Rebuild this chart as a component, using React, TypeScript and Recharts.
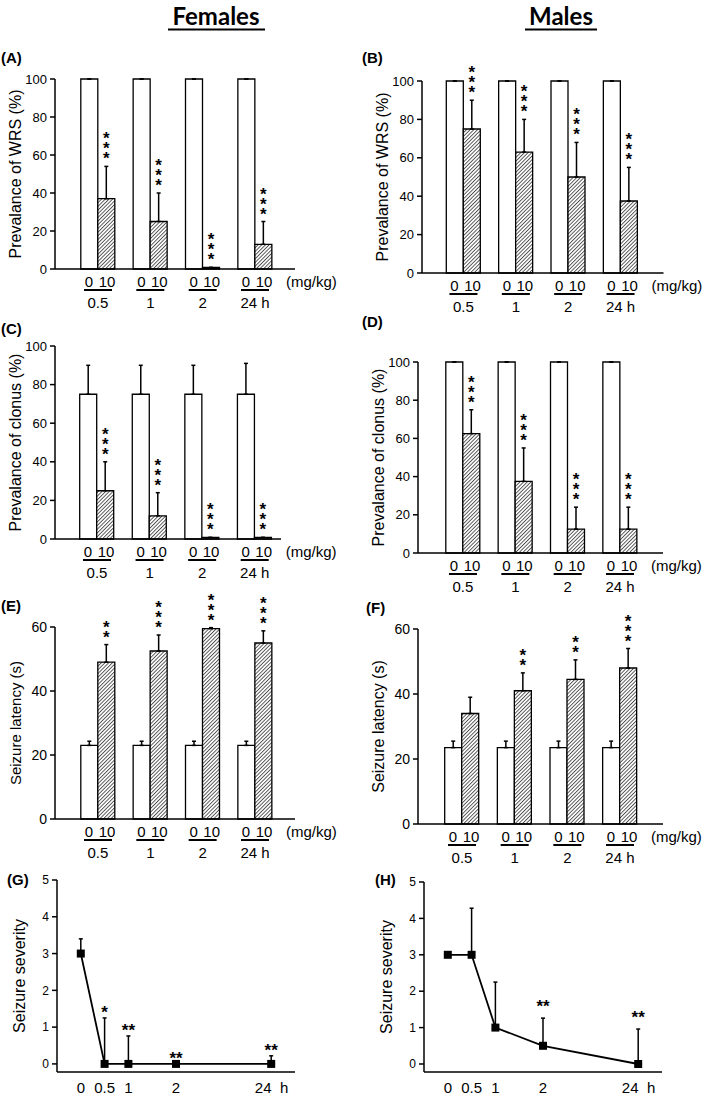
import React from "react";
import {
  Bar,
  BarChart,
  ErrorBar,
  LabelList,
  Line,
  LineChart,
  XAxis,
  YAxis,
} from "recharts";

const FONT = "'Liberation Sans', Arial, Helvetica, sans-serif";

// time after injection (h) – shared by all bar panels
const groups = ["0.5", "1", "2", "24 h"];

// (A) females – prevalence of WRS (%)
const femWrsCtl = [100, 100, 100, 100];
const femWrsCtlErr = [0, 0, 0, 0];
const femWrsTrt = [37, 25, 0.8, 13];
const femWrsTrtErr = [17, 15, 0, 12];
const femWrsStars = [3, 3, 3, 3];

// (B) males – prevalence of WRS (%)
const maleWrsCtl = [100, 100, 100, 100];
const maleWrsCtlErr = [0, 0, 0, 0];
const maleWrsTrt = [75, 63, 50, 37.5];
const maleWrsTrtErr = [15, 17, 18, 17.5];
const maleWrsStars = [3, 3, 3, 3];

// (C) females – prevalence of clonus (%)
const femClonCtl = [75, 75, 75, 75];
const femClonCtlErr = [15, 15, 15, 16];
const femClonTrt = [25, 12, 0.8, 0.8];
const femClonTrtErr = [15, 12, 0, 0];
const femClonStars = [3, 3, 3, 3];

// (D) males – prevalence of clonus (%)
const maleClonCtl = [100, 100, 100, 100];
const maleClonCtlErr = [0, 0, 0, 0];
const maleClonTrt = [62.5, 37.5, 12.5, 12.5];
const maleClonTrtErr = [12.5, 17.5, 11.5, 11.5];
const maleClonStars = [3, 3, 3, 3];

// (E) females – seizure latency (s)
const femLatCtl = [23, 23, 23, 23];
const femLatCtlErr = [1.3, 1.3, 1.3, 1.3];
const femLatTrt = [49, 52.5, 59.5, 55];
const femLatTrtErr = [5.5, 5, 0.3, 3.8];
const femLatStars = [2, 3, 3, 3];

// (F) males – seizure latency (s)
const maleLatCtl = [23.5, 23.5, 23.5, 23.5];
const maleLatCtlErr = [2, 2, 2, 2];
const maleLatTrt = [34, 41, 44.5, 48];
const maleLatTrtErr = [5, 5.5, 6, 6];
const maleLatStars = [0, 2, 2, 3];

// (G)/(H) seizure severity over time
const times = ["0", "0.5", "1", "2", "24"];
const timePos = [0, 1, 2, 4, 8]; // broken time axis
const femSev = [3, 0, 0, 0, 0];
const femSevErr = [0.4, 1.25, 0.76, 0, 0.22];
const femSevStars = ["", "*", "**", "**", "**"];
const maleSev = [3, 3, 1, 0.5, 0];
const maleSevErr = [0, 1.28, 1.25, 0.76, 0.96];
const maleSevStars = ["", "", "", "**", "**"];

const pctTicks = [0, 20, 40, 60, 80, 100];
const latTicks = [0, 20, 40, 60];
const sevTicks = [0, 1, 2, 3, 4, 5];

type BarRow = {
  group: string;
  ctl: number;
  trt: number;
  ctlErr: number[];
  trtErr: number[];
  stars: number;
};

const makeRows = (
  ctl: number[],
  ctlErr: number[],
  trt: number[],
  trtErr: number[],
  stars: number[]
): BarRow[] =>
  groups.map((g, i) => ({
    group: g,
    ctl: ctl[i],
    trt: trt[i],
    ctlErr: [0, ctlErr[i]],
    trtErr: [0, trtErr[i]],
    stars: stars[i],
  }));

const STAR_SIZE = 17;
const STAR_MID = 10; // baseline -> glyph centre

const YTitle = ({ viewBox, text, gap = 40, size = 16 }: any) => {
  if (!viewBox) return null;
  const cx = viewBox.x + viewBox.width - gap;
  const cy = viewBox.y + viewBox.height / 2;
  return (
    <text
      x={cx}
      y={cy}
      transform={`rotate(-90 ${cx} ${cy})`}
      textAnchor="middle"
      dominantBaseline="central"
      fontSize={size}
      fontFamily={FONT}
      fill="#000"
    >
      {text}
    </text>
  );
};

const GroupTick = ({ x, y, payload, index, count }: any) => (
  <g fontFamily={FONT} fontSize={15} fill="#000">
    <text x={x - 9} y={y + 18} textAnchor="middle">0</text>
    <text x={x + 9} y={y + 18} textAnchor="middle">10</text>
    <line x1={x - 14} x2={x + 14} y1={y + 21} y2={y + 21} stroke="#000" strokeWidth={2} />
    <text x={x} y={y + 39} textAnchor="middle">{payload.value}</text>
    {index === count - 1 && (
      <text x={x + 31} y={y + 18} textAnchor="start">(mg/kg)</text>
    )}
  </g>
);

const TimeTick = ({ x, y, payload }: any) => {
  const i = timePos.indexOf(payload.value);
  const last = i === timePos.length - 1;
  return (
    <g fontFamily={FONT} fontSize={15} fill="#000">
      <text x={last ? x - 8 : x} y={y + 21} textAnchor="middle">{times[i]}</text>
      {last && <text x={x + 13} y={y + 21} textAnchor="middle">h</text>}
    </g>
  );
};

const AXIS_W = 55;
const TOP = 40;
const BOTTOM = 48;

type BarPanelProps = {
  rows: BarRow[];
  x: number;
  y: number;
  w: number;
  h: number;
  yMax: number;
  yTicks: number[];
  yLabel: string;
  padL: number;
  padR: number;
  right?: number;
  tickSize?: number;
  labelSize?: number;
};

const BarPanel = ({ rows, x, y, w, h, yMax, yTicks, yLabel, padL, padR, right = 46, tickSize = 13, labelSize = 16 }: BarPanelProps) => {
  const pxPerUnit = h / yMax;
  const renderStars = (props: any) => {
    const vb = props.viewBox ?? props;
    const row = rows[props.index];
    if (!row || !row.stars) return null;
    const base = Number(vb.y) + Number(vb.height);
    const errTop = base - (row.trt + row.trtErr[1]) * pxPerUnit;
    const cx = Number(vb.x) + Number(vb.width) / 2;
    // bottom star centred ~12px above the error bar, 10px between stars
    return (
      <text x={cx} y={errTop - 12 + STAR_MID} textAnchor="middle" fontSize={STAR_SIZE} fontWeight="bold" fontFamily={FONT} fill="#000">
        {Array.from({ length: row.stars }, (_, k) => (
          <tspan key={k} x={cx} dy={k === 0 ? 0 : -10}>
            *
          </tspan>
        ))}
      </text>
    );
  };
  return (
    <div style={{ position: "absolute", left: x - AXIS_W, top: y - TOP }}>
      <BarChart
        width={AXIS_W + w + right}
        height={TOP + h + BOTTOM}
        data={rows}
        margin={{ top: TOP, right, bottom: 0, left: 0 }}
        barGap={0}
        barSize={17}
      >
        <XAxis
          dataKey="group"
          height={BOTTOM}
          interval={0}
          padding={{ left: padL, right: padR }}
          tickLine={false}
          tickSize={0}
          tickMargin={0}
          axisLine={{ stroke: "#000", strokeWidth: 1.5 }}
          tick={<GroupTick count={rows.length} />}
        />
        <YAxis
          width={AXIS_W}
          domain={[0, yMax]}
          ticks={yTicks}
          interval={0}
          tickSize={5}
          tickMargin={3}
          axisLine={{ stroke: "#000", strokeWidth: 1.5 }}
          tickLine={{ stroke: "#000", strokeWidth: 1.5 }}
          tick={{ fill: "#000", fontSize: tickSize, fontFamily: FONT }}
          label={<YTitle text={yLabel} size={labelSize} />}
        />
        <Bar dataKey="ctl" fill="#fff" stroke="#000" strokeWidth={1.3} isAnimationActive={false}>
          <ErrorBar dataKey="ctlErr" direction="y" width={2} stroke="#000" strokeWidth={1.5} />
        </Bar>
        <Bar dataKey="trt" fill="url(#hatch)" stroke="#000" strokeWidth={1.3} isAnimationActive={false}>
          <ErrorBar dataKey="trtErr" direction="y" width={2} stroke="#000" strokeWidth={1.5} />
          <LabelList dataKey="stars" content={renderStars} />
        </Bar>
      </BarChart>
    </div>
  );
};

type SevRow = { pos: number; sev: number; err: number[]; stars: string };

const makeSevRows = (sev: number[], err: number[], stars: string[]): SevRow[] =>
  timePos.map((p, i) => ({ pos: p, sev: sev[i], err: [0, err[i]], stars: stars[i] }));

const SEV_MIN = -0.22;

const Square = ({ cx, cy }: any) =>
  cx == null || cy == null ? null : <rect x={cx - 4} y={cy - 4} width={8} height={8} fill="#000" />;

const SeverityPanel = ({ rows, x, y, w, h, starGap }: { rows: SevRow[]; x: number; y: number; w: number; h: number; starGap: number }) => {
  const pxPerUnit = h / (5 - SEV_MIN);
  const renderStars = (props: any) => {
    const vb = props.viewBox ?? props;
    const row = rows[props.index];
    if (!row || !row.stars) return null;
    const errTop = Number(vb.y) - row.err[1] * pxPerUnit;
    return (
      <text x={Number(vb.x)} y={errTop - starGap + STAR_MID} textAnchor="middle" fontSize={STAR_SIZE} fontWeight="bold" fontFamily={FONT} fill="#000">
        {row.stars}
      </text>
    );
  };
  return (
    <div style={{ position: "absolute", left: x - AXIS_W, top: y - TOP }}>
      <LineChart
        width={AXIS_W + w + 30}
        height={TOP + h + 30}
        data={rows}
        margin={{ top: TOP, right: 30, bottom: 0, left: 0 }}
      >
        <XAxis
          type="number"
          dataKey="pos"
          domain={[-1, 9]}
          ticks={timePos}
          interval={0}
          height={30}
          tickLine={false}
          tickSize={0}
          tickMargin={0}
          axisLine={{ stroke: "#000", strokeWidth: 1.5 }}
          tick={<TimeTick />}
        />
        <YAxis
          width={AXIS_W}
          type="number"
          domain={[SEV_MIN, 5]}
          ticks={sevTicks}
          interval={0}
          tickSize={5}
          tickMargin={3}
          axisLine={{ stroke: "#000", strokeWidth: 1.5 }}
          tickLine={{ stroke: "#000", strokeWidth: 1.5 }}
          tick={{ fill: "#000", fontSize: 12, fontFamily: FONT }}
          label={<YTitle text="Seizure severity" gap={38} size={16} />}
        />
        <Line
          dataKey="sev"
          stroke="#000"
          strokeWidth={1.8}
          dot={<Square />}
          activeDot={false}
          isAnimationActive={false}
        >
          <ErrorBar dataKey="err" direction="y" width={2} stroke="#000" strokeWidth={1.5} />
          <LabelList dataKey="stars" content={renderStars} />
        </Line>
      </LineChart>
    </div>
  );
};

const panelLetter = (t: string, x: number, y: number) => (
  <text x={x} y={y} fontSize={15} fontWeight="bold" fontFamily={FONT} fill="#000">
    {t}
  </text>
);

const TITLE_FONT = "Lato, 'Open Sans', sans-serif";

export default function App() {
  return (
    <div
      style={{
        position: "absolute",
        left: 0,
        top: 0,
        width: 709,
        height: 1099,
        overflow: "hidden",
        background: "#fff",
      }}
    >
      <svg width={709} height={1099} style={{ position: "absolute", left: 0, top: 0 }}>
        <defs>
          <pattern id="hatch" patternUnits="userSpaceOnUse" width={2.6} height={2.6} patternTransform="rotate(45)">
            <rect width={2.6} height={2.6} fill="#fff" />
            <line x1={0.5} y1={0} x2={0.5} y2={2.6} stroke="#222" strokeWidth={0.75} />
          </pattern>
        </defs>
        <text x={216} y={25} textAnchor="middle" fontSize={24} fontWeight="bold" fontFamily={TITLE_FONT} fill="#000">
          Females
        </text>
        <line x1={168} x2={265} y1={29.5} y2={29.5} stroke="#000" strokeWidth={2} />
        <text x={561} y={25} textAnchor="middle" fontSize={24} fontWeight="bold" fontFamily={TITLE_FONT} fill="#000">
          Males
        </text>
        <line x1={525} x2={597} y1={29.5} y2={29.5} stroke="#000" strokeWidth={2} />
        {panelLetter("(A)", 1, 63)}
        {panelLetter("(B)", 362, 63)}
        {panelLetter("(C)", 1, 334)}
        {panelLetter("(D)", 362, 327)}
        {panelLetter("(E)", 1, 611)}
        {panelLetter("(F)", 366, 613)}
        {panelLetter("(G)", 7, 885)}
        {panelLetter("(H)", 375, 885)}
      </svg>

      <BarPanel
        rows={makeRows(femWrsCtl, femWrsCtlErr, femWrsTrt, femWrsTrtErr, femWrsStars)}
        x={55} y={79} w={240} h={190} yMax={100} yTicks={pctTicks}
        yLabel="Prevalance of WRS (%)" padL={16.8} padR={13.8}
      />
      <BarPanel
        rows={makeRows(maleWrsCtl, maleWrsCtlErr, maleWrsTrt, maleWrsTrtErr, maleWrsStars)}
        x={421.5} y={81} w={241.5} h={192} yMax={100} yTicks={pctTicks}
        yLabel="Prevalance of WRS (%)" padL={15.3} padR={16.8}
      />
      <BarPanel
        rows={makeRows(femClonCtl, femClonCtlErr, femClonTrt, femClonTrtErr, femClonStars)}
        x={55} y={346} w={226} h={193} yMax={100} yTicks={pctTicks}
        yLabel="Prevalance of clonus (%)" padL={15.7} padR={0} right={64}
      />
      <BarPanel
        rows={makeRows(maleClonCtl, maleClonCtlErr, maleClonTrt, maleClonTrtErr, maleClonStars)}
        x={418} y={362} w={245} h={191} yMax={100} yTicks={pctTicks}
        yLabel="Prevalance of clonus (%)" padL={18.8} padR={16.8}
      />
      <BarPanel
        rows={makeRows(femLatCtl, femLatCtlErr, femLatTrt, femLatTrtErr, femLatStars)}
        x={55} y={627} w={240} h={192} yMax={60} yTicks={latTicks}
        yLabel="Seizure latency (s)" padL={16.8} padR={13.8} tickSize={14} labelSize={15}
      />
      <BarPanel
        rows={makeRows(maleLatCtl, maleLatCtlErr, maleLatTrt, maleLatTrtErr, maleLatStars)}
        x={418} y={629} w={245} h={195} yMax={60} yTicks={latTicks}
        yLabel="Seizure latency (s)" padL={17.7} padR={16.7} tickSize={14} labelSize={16}
      />
      <SeverityPanel rows={makeSevRows(femSev, femSevErr, femSevStars)} x={57} y={880} w={238} h={192} starGap={10} />
      <SeverityPanel rows={makeSevRows(maleSev, maleSevErr, maleSevStars)} x={424} y={882} w={238} h={190} starGap={16} />
    </div>
  );
}
